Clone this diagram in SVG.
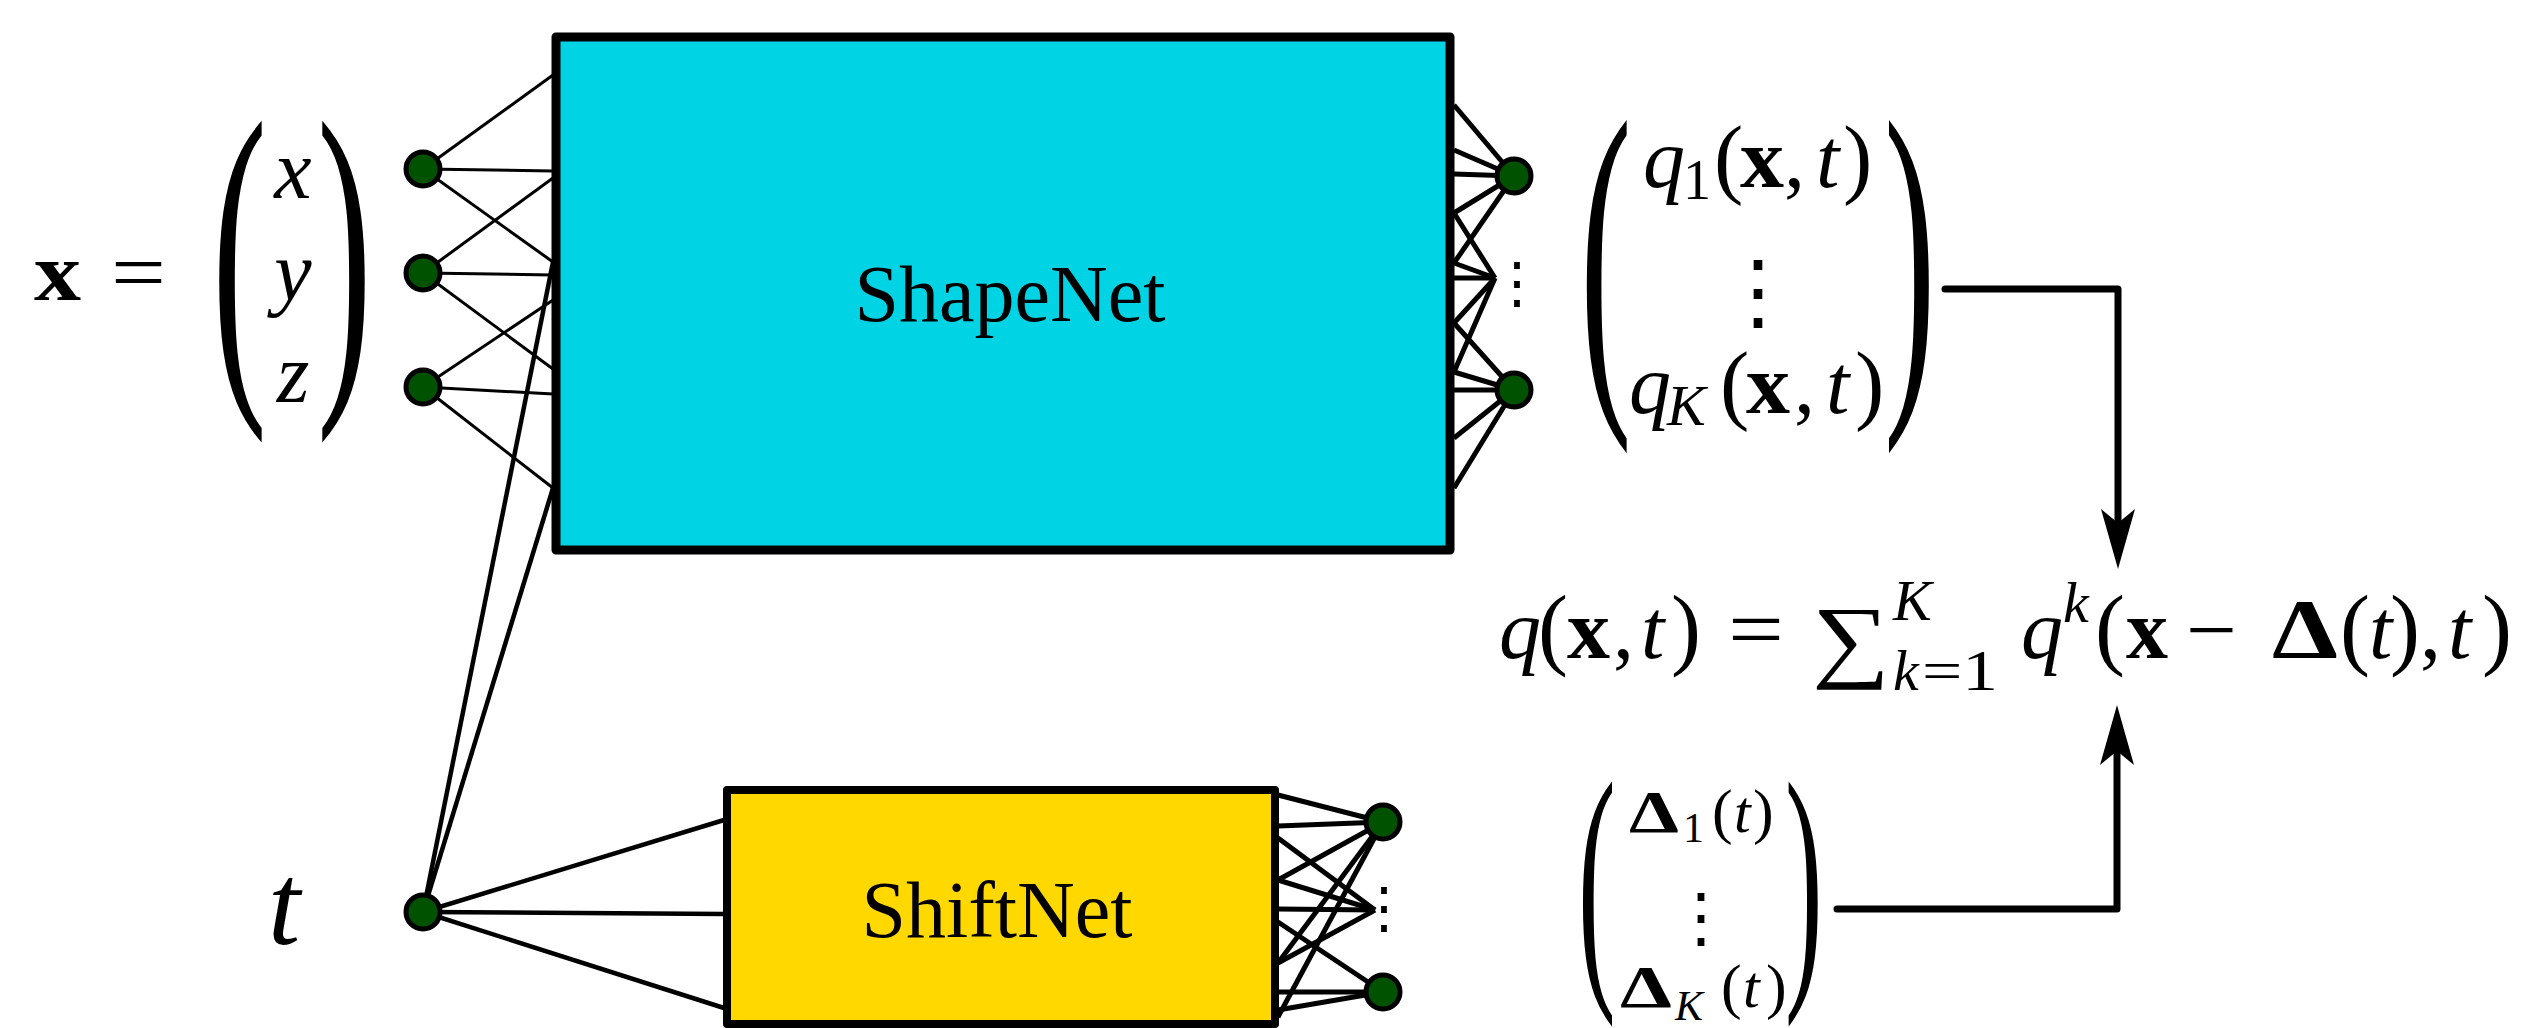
<svg xmlns="http://www.w3.org/2000/svg" width="2529" height="1028" viewBox="0 0 2529 1028">
<defs>
<style>
.r{font-family:"Liberation Serif",serif;fill:#000}
.i{font-family:"Liberation Serif",serif;font-style:italic;fill:#000}
.b{font-family:"Liberation Serif",serif;font-weight:bold;fill:#000}
.vd{font-family:"Noto Sans CJK SC",sans-serif;fill:#000;text-anchor:middle}
.node{fill:#005200;stroke:#000;stroke-width:5}
.thin{stroke:#000;stroke-width:3;fill:none}
.mid{stroke:#000;stroke-width:4.5;fill:none}
.fan{stroke:#000;stroke-width:5;fill:none}
.arrow{stroke:#000;stroke-width:7;fill:none;stroke-linejoin:round;stroke-linecap:round}
</style>
<marker id="head" markerUnits="userSpaceOnUse" markerWidth="62" markerHeight="36" viewBox="0 0 62 36" refX="15" refY="18" orient="auto">
<path d="M61,18 L1,1 L15,18 L1,35 Z" fill="#000"/>
</marker>
</defs>

<g id="connectors">
<line class="thin" x1="423" y1="169" x2="553" y2="75"/>
<line class="thin" x1="423" y1="169" x2="553" y2="171"/>
<line class="thin" x1="423" y1="169" x2="553" y2="262"/>
<line class="thin" x1="423" y1="273" x2="553" y2="178"/>
<line class="thin" x1="423" y1="273" x2="553" y2="275"/>
<line class="thin" x1="423" y1="273" x2="553" y2="369"/>
<line class="thin" x1="423" y1="387" x2="553" y2="300"/>
<line class="thin" x1="423" y1="387" x2="553" y2="394"/>
<line class="thin" x1="423" y1="387" x2="553" y2="488"/>
<line class="mid" x1="423" y1="912" x2="553" y2="262"/>
<line class="mid" x1="423" y1="912" x2="553" y2="488"/>
<line class="mid" x1="423" y1="912" x2="724" y2="820"/>
<line class="mid" x1="423" y1="912" x2="724" y2="914"/>
<line class="mid" x1="423" y1="912" x2="724" y2="1008"/>
<line class="fan" x1="1454" y1="105" x2="1514" y2="176"/>
<line class="fan" x1="1454" y1="150" x2="1514" y2="176"/>
<line class="fan" x1="1454" y1="174" x2="1514" y2="176"/>
<line class="fan" x1="1454" y1="213" x2="1514" y2="176"/>
<line class="fan" x1="1454" y1="263" x2="1514" y2="176"/>
<line class="fan" x1="1454" y1="213" x2="1495" y2="278"/>
<line class="fan" x1="1454" y1="263" x2="1495" y2="278"/>
<line class="fan" x1="1454" y1="278" x2="1495" y2="278"/>
<line class="fan" x1="1454" y1="323" x2="1495" y2="278"/>
<line class="fan" x1="1454" y1="372" x2="1495" y2="278"/>
<line class="fan" x1="1454" y1="323" x2="1514" y2="390"/>
<line class="fan" x1="1454" y1="372" x2="1514" y2="390"/>
<line class="fan" x1="1454" y1="390" x2="1514" y2="390"/>
<line class="fan" x1="1454" y1="438" x2="1514" y2="390"/>
<line class="fan" x1="1454" y1="488" x2="1514" y2="390"/>
<line class="fan" x1="1278" y1="795" x2="1383" y2="822"/>
<line class="fan" x1="1278" y1="826" x2="1383" y2="822"/>
<line class="fan" x1="1278" y1="880" x2="1383" y2="822"/>
<line class="fan" x1="1278" y1="963" x2="1383" y2="822"/>
<line class="fan" x1="1278" y1="1017" x2="1383" y2="822"/>
<line class="fan" x1="1278" y1="838" x2="1375" y2="910"/>
<line class="fan" x1="1278" y1="880" x2="1375" y2="910"/>
<line class="fan" x1="1278" y1="909" x2="1375" y2="910"/>
<line class="fan" x1="1278" y1="963" x2="1375" y2="910"/>
<line class="fan" x1="1278" y1="922" x2="1383" y2="992"/>
<line class="fan" x1="1278" y1="992" x2="1383" y2="992"/>
<line class="fan" x1="1278" y1="1010" x2="1383" y2="992"/>
<path class="arrow" d="M1945,289 H2118 V523" marker-end="url(#head)"/>
<path class="arrow" d="M1837,909 H2117 V751" marker-end="url(#head)"/>
</g>

<g id="shapenet">
<rect x="556" y="37" width="894" height="513" fill="#00D4E4" stroke="#000" stroke-width="9" stroke-linejoin="round"/>
<text class="r" x="1010" y="321" font-size="80" text-anchor="middle">ShapeNet</text>
</g>

<g id="shiftnet">
<rect x="727" y="790" width="548" height="234" fill="#FFD800" stroke="#000" stroke-width="8" stroke-linejoin="round"/>
<text class="r" x="997" y="937" font-size="80" text-anchor="middle">ShiftNet</text>
</g>

<g id="input-nodes">
<circle class="node" cx="423" cy="169" r="17"/>
<circle class="node" cx="423" cy="273" r="17"/>
<circle class="node" cx="423" cy="387" r="17"/>
</g>
<g id="t-node">
<circle class="node" cx="423" cy="912" r="17"/>
</g>
<g id="shapenet-outputs">
<circle class="node" cx="1514" cy="176" r="17"/>
<circle class="node" cx="1514" cy="390" r="17"/>
<text class="vd" x="1517" y="302" font-size="56">⋮</text>
</g>
<g id="shiftnet-outputs">
<circle class="node" cx="1383" cy="822" r="17"/>
<circle class="node" cx="1383" cy="992" r="17"/>
<text class="vd" x="1384" y="927" font-size="56">⋮</text>
</g>

<g id="input-vector">
<text class="b" x="34" y="300" font-size="82" textLength="47" lengthAdjust="spacingAndGlyphs">x</text>
<text class="r" x="111" y="300" font-size="82" textLength="55" lengthAdjust="spacingAndGlyphs">=</text>
<text class="r" font-size="165" transform="translate(212,367) scale(1,2.15)">(</text>
<text class="r" font-size="165" transform="translate(317,367) scale(1,2.15)">)</text>
<text class="i" font-size="84" text-anchor="middle"><tspan x="293" y="198">x</tspan><tspan x="293" y="300">y</tspan><tspan x="293" y="402">z</tspan></text>
</g>

<g id="t-label">
<text class="i" x="268" y="944" font-size="116">t</text>
</g>

<g id="q-vector">
<text class="r" font-size="155" transform="translate(1580,375) scale(1,2.37)">(</text>
<text class="r" font-size="155" transform="translate(1884,375) scale(1,2.37)">)</text>
<text class="i" x="1643" y="187" font-size="84">q</text>
<text class="r" x="1683" y="199" font-size="56">1</text>
<text class="r" x="1714" y="187" font-size="88">(</text>
<text class="b" x="1740" y="187" font-size="84" textLength="44" lengthAdjust="spacingAndGlyphs">x</text>
<text class="r" x="1784" y="187" font-size="84">,</text>
<text class="i" x="1816" y="187" font-size="84">t</text>
<text class="r" x="1843" y="187" font-size="88">)</text>
<text class="vd" x="1758" y="320" font-size="84">⋮</text>
<text class="i" x="1629" y="413" font-size="84">q</text>
<text class="i" x="1667" y="425" font-size="58">K</text>
<text class="r" x="1720" y="413" font-size="88">(</text>
<text class="b" x="1746" y="413" font-size="84" textLength="44" lengthAdjust="spacingAndGlyphs">x</text>
<text class="r" x="1794" y="413" font-size="84">,</text>
<text class="i" x="1826" y="413" font-size="84">t</text>
<text class="r" x="1855" y="413" font-size="88">)</text>
</g>

<g id="delta-vector">
<text class="r" font-size="113" transform="translate(1578,969) scale(1,2.39)">(</text>
<text class="r" font-size="113" transform="translate(1785,969) scale(1,2.39)">)</text>
<text class="b" x="1629" y="832" font-size="60" textLength="50" lengthAdjust="spacingAndGlyphs">Δ</text>
<text class="r" x="1683" y="842" font-size="42">1</text>
<text class="r" x="1712" y="832" font-size="62">(</text>
<text class="i" x="1734" y="832" font-size="60">t</text>
<text class="r" x="1753" y="832" font-size="62">)</text>
<text class="vd" x="1701" y="940" font-size="66">⋮</text>
<text class="b" x="1620" y="1007" font-size="60" textLength="52" lengthAdjust="spacingAndGlyphs">Δ</text>
<text class="i" x="1675" y="1020" font-size="42">K</text>
<text class="r" x="1721" y="1007" font-size="62">(</text>
<text class="i" x="1743" y="1007" font-size="60">t</text>
<text class="r" x="1766" y="1007" font-size="62">)</text>
</g>

<g id="formula">
<text class="i" x="1499" y="658" font-size="84">q</text>
<text class="r" x="1538" y="658" font-size="90">(</text>
<text class="b" x="1567" y="658" font-size="84" textLength="43" lengthAdjust="spacingAndGlyphs">x</text>
<text class="r" x="1613" y="658" font-size="84">,</text>
<text class="i" x="1641" y="658" font-size="84">t</text>
<text class="r" x="1671" y="658" font-size="90">)</text>
<text class="r" x="1728" y="658" font-size="84" textLength="56" lengthAdjust="spacingAndGlyphs">=</text>
<text class="r" x="1812" y="670" font-size="92" textLength="78" lengthAdjust="spacingAndGlyphs">∑</text>
<text class="i" x="1893" y="620" font-size="58">K</text>
<text class="i" x="1893" y="690" font-size="58">k</text>
<text class="r" x="1922" y="690" font-size="58" textLength="76" lengthAdjust="spacingAndGlyphs">=1</text>
<text class="i" x="2021" y="658" font-size="84">q</text>
<text class="i" x="2063" y="622" font-size="58">k</text>
<text class="r" x="2095" y="658" font-size="90">(</text>
<text class="b" x="2126" y="658" font-size="84" textLength="42" lengthAdjust="spacingAndGlyphs">x</text>
<text class="r" x="2186" y="658" font-size="84" textLength="51" lengthAdjust="spacingAndGlyphs">−</text>
<text class="b" x="2272" y="658" font-size="84" textLength="66" lengthAdjust="spacingAndGlyphs">Δ</text>
<text class="r" x="2340" y="658" font-size="90">(</text>
<text class="i" x="2369" y="658" font-size="84">t</text>
<text class="r" x="2390" y="658" font-size="90">)</text>
<text class="r" x="2420" y="658" font-size="84">,</text>
<text class="i" x="2448" y="658" font-size="84">t</text>
<text class="r" x="2482" y="658" font-size="90">)</text>
</g>
</svg>
